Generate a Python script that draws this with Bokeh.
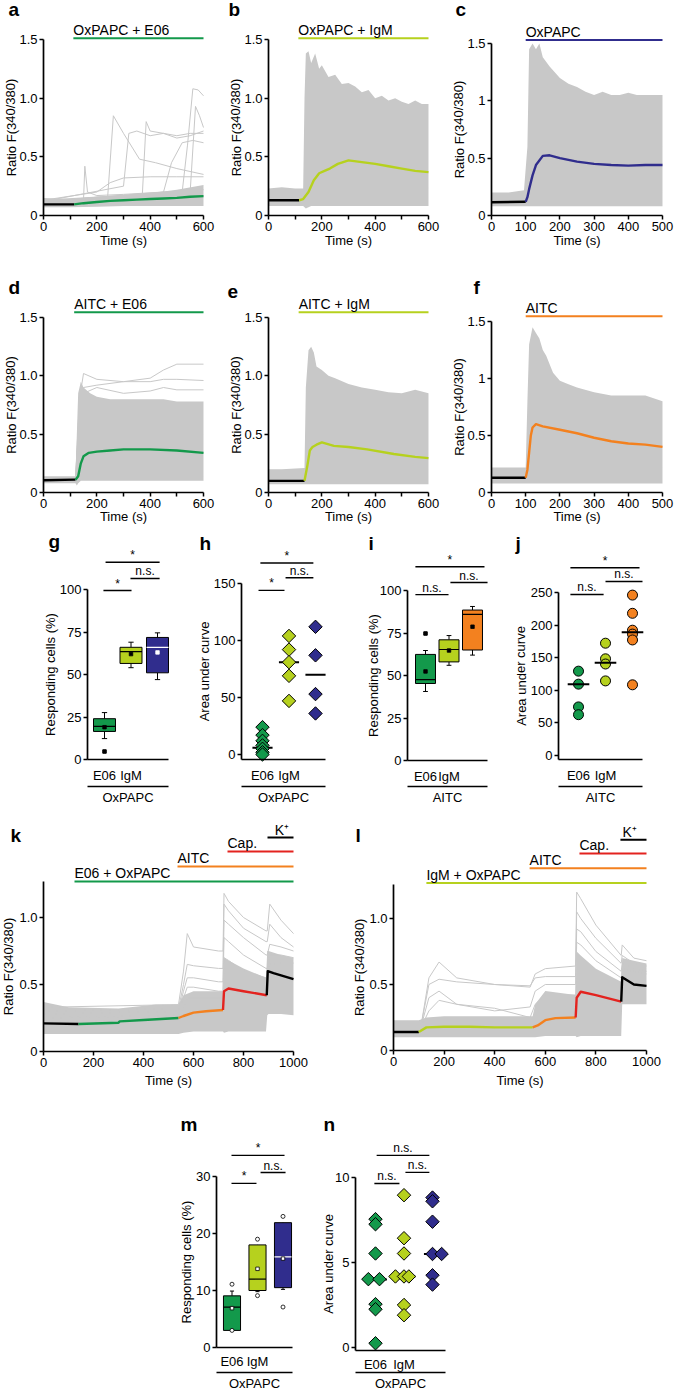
from bokeh.plotting import figure
from bokeh.models import Range1d, FixedTicker
from bokeh.layouts import column, row
from bokeh.embed import file_html
from bokeh.resources import INLINE
from bokeh.core.properties import value

FONT = "Liberation Sans"
GREEN = "#13994b"
LIME = "#b6d11e"
BLUE = "#302d8d"
ORANGE = "#f3811f"
RED = "#e3231f"
GRAY = "#c8c8c8"
BLACK = "#000000"

# ---------------- trace panels (time in s, ratio F340/380) ----------------
a_env_t = [0, 100, 200, 300, 400, 500, 600]
a_env_lo = [0.07, 0.07, 0.075, 0.08, 0.08, 0.08, 0.08]
a_env_hi = [0.15, 0.14, 0.16, 0.17, 0.19, 0.22, 0.26]
a_traces = [
    ([0, 240, 262, 300, 360, 420, 500, 600], [0.12, 0.14, 0.85, 0.70, 0.48, 0.45, 0.40, 0.35]),
    ([0, 370, 385, 400, 450, 500, 550, 600], [0.13, 0.15, 0.80, 0.72, 0.70, 0.68, 0.70, 0.70]),
    ([0, 300, 320, 350, 400, 450, 500, 550, 600], [0.12, 0.25, 0.70, 0.72, 0.68, 0.70, 0.66, 0.68, 0.72]),
    ([0, 520, 540, 560, 580, 600], [0.13, 0.20, 0.60, 1.08, 1.07, 1.02]),
    ([0, 550, 570, 585, 600], [0.12, 0.20, 0.93, 0.85, 0.75]),
    ([0, 200, 250, 300, 400, 500, 600], [0.13, 0.20, 0.28, 0.32, 0.33, 0.33, 0.33]),
    ([0, 450, 480, 520, 560, 600], [0.12, 0.20, 0.45, 0.62, 0.64, 0.62]),
    ([0, 150, 155, 165, 200, 300, 600], [0.12, 0.13, 0.42, 0.20, 0.17, 0.18, 0.22]),
]
a_mean_t = [0, 115, 150, 200, 250, 300, 350, 400, 450, 500, 550, 600]
a_mean_v = [0.095, 0.095, 0.105, 0.115, 0.125, 0.13, 0.135, 0.14, 0.145, 0.15, 0.16, 0.165]

b_env_t = [0, 50, 100, 130, 135, 140, 150, 160, 175, 190, 200, 225, 250, 275, 300, 325, 350, 375, 400, 425, 450, 475, 500, 525, 550, 575, 600]
b_env_hi = [0.23, 0.24, 0.23, 0.23, 1.0, 1.38, 1.40, 1.30, 1.38, 1.25, 1.28, 1.18, 1.20, 1.12, 1.13, 1.10, 1.05, 1.07, 1.00, 1.02, 0.98, 1.0, 0.97, 0.95, 0.98, 0.95, 0.95]
b_env_lo = [0.08, 0.08, 0.08, 0.08, 0.07, 0.06, 0.07, 0.08, 0.08, 0.08, 0.08, 0.08, 0.08, 0.08, 0.08, 0.08, 0.08, 0.08, 0.08, 0.08, 0.08, 0.08, 0.08, 0.08, 0.08, 0.08, 0.08]
b_mean_t = [0, 115, 130, 150, 170, 190, 210, 230, 260, 300, 350, 400, 450, 500, 550, 600]
b_mean_v = [0.13, 0.13, 0.14, 0.20, 0.30, 0.36, 0.38, 0.40, 0.44, 0.47, 0.455, 0.44, 0.42, 0.40, 0.38, 0.37]

c_env_t = [0, 50, 95, 105, 110, 120, 130, 140, 150, 170, 200, 225, 250, 275, 300, 325, 350, 375, 400, 425, 450, 475, 500]
c_env_hi = [0.20, 0.20, 0.22, 0.60, 1.45, 1.50, 1.45, 1.50, 1.38, 1.30, 1.20, 1.15, 1.12, 1.08, 1.05, 1.08, 1.05, 1.05, 1.07, 1.05, 1.05, 1.05, 1.05]
c_env_lo = [0.08] * 23
c_mean_t = [0, 100, 105, 110, 120, 130, 150, 170, 200, 250, 300, 350, 400, 450, 500]
c_mean_v = [0.115, 0.12, 0.16, 0.23, 0.35, 0.44, 0.52, 0.525, 0.50, 0.47, 0.45, 0.44, 0.435, 0.44, 0.44]

d_env_t = [0, 50, 120, 125, 130, 140, 150, 175, 200, 250, 300, 350, 400, 450, 500, 550, 600]
d_env_hi = [0.14, 0.14, 0.14, 0.50, 0.85, 0.95, 0.90, 0.85, 0.82, 0.80, 0.80, 0.80, 0.80, 0.80, 0.78, 0.78, 0.78]
d_env_lo = [0.08, 0.08, 0.08, 0.06, 0.08, 0.10, 0.10, 0.10, 0.10, 0.10, 0.10, 0.10, 0.10, 0.10, 0.10, 0.10, 0.10]
d_traces = [
    ([0, 120, 135, 150, 200, 300, 400, 450, 500, 600], [0.12, 0.12, 0.80, 1.02, 0.97, 0.95, 0.98, 1.05, 1.10, 1.10]),
    ([0, 120, 135, 150, 200, 300, 400, 450, 500, 600], [0.12, 0.12, 0.70, 0.90, 0.92, 0.95, 0.95, 0.97, 0.97, 0.96]),
    ([0, 120, 135, 150, 200, 300, 400, 450, 500, 600], [0.11, 0.11, 0.60, 0.85, 0.90, 0.85, 0.87, 0.90, 0.88, 0.88]),
]
d_mean_t = [0, 120, 130, 140, 150, 170, 200, 250, 300, 400, 500, 600]
d_mean_v = [0.105, 0.11, 0.14, 0.25, 0.31, 0.34, 0.35, 0.36, 0.37, 0.37, 0.36, 0.34]

e_env_t = [0, 50, 135, 140, 150, 160, 170, 180, 200, 225, 250, 300, 350, 400, 450, 500, 550, 600]
e_env_hi = [0.20, 0.20, 0.21, 0.90, 1.22, 1.25, 1.20, 1.08, 1.05, 1.00, 0.98, 0.93, 0.90, 0.88, 0.86, 0.85, 0.88, 0.85]
e_env_lo = [0.07] * 18
e_mean_t = [0, 135, 145, 155, 165, 180, 200, 245, 300, 370, 470, 550, 600]
e_mean_v = [0.10, 0.10, 0.22, 0.36, 0.39, 0.41, 0.43, 0.40, 0.39, 0.37, 0.33, 0.305, 0.295]

f_env_t = [0, 50, 100, 105, 110, 120, 130, 140, 150, 160, 180, 200, 225, 250, 300, 350, 400, 450, 500]
f_env_hi = [0.22, 0.22, 0.22, 0.80, 1.30, 1.45, 1.40, 1.35, 1.25, 1.20, 1.05, 0.98, 0.95, 0.92, 0.88, 0.85, 0.85, 0.85, 0.80]
f_env_lo = [0.08] * 19
f_mean_t = [0, 100, 105, 110, 115, 120, 130, 150, 200, 250, 300, 350, 400, 450, 500]
f_mean_v = [0.13, 0.13, 0.20, 0.35, 0.50, 0.57, 0.60, 0.58, 0.55, 0.52, 0.48, 0.45, 0.43, 0.42, 0.40]

# ---------------- k / l sequential application traces ----------------
k_env_t = [0, 100, 300, 450, 540, 560, 600, 700, 718, 722, 740, 800, 890, 895, 900, 950, 1000]
k_env_lo = [0.13, 0.13, 0.13, 0.13, 0.13, 0.14, 0.15, 0.15, 0.15, 0.14, 0.15, 0.15, 0.15, 0.27, 0.28, 0.28, 0.27]
k_env_hi = [0.37, 0.33, 0.32, 0.35, 0.35, 0.42, 0.45, 0.45, 0.45, 0.70, 0.68, 0.62, 0.55, 0.75, 0.75, 0.72, 0.70]
k_tr_t = [0, 540, 560, 575, 600, 700, 718, 722, 740, 800, 890, 895, 905, 950, 1000]
k_traces = [
    (k_tr_t, [0.33, 0.35, 0.60, 0.88, 0.78, 0.75, 0.75, 1.18, 1.12, 1.00, 0.90, 0.90, 1.10, 0.98, 0.88]),
    (k_tr_t, [0.30, 0.32, 0.50, 0.65, 0.64, 0.62, 0.62, 1.10, 1.05, 0.92, 0.82, 0.82, 0.95, 0.85, 0.78]),
    (k_tr_t, [0.28, 0.30, 0.45, 0.55, 0.55, 0.52, 0.52, 0.98, 0.95, 0.85, 0.72, 0.72, 0.80, 0.78, 0.75]),
    (k_tr_t, [0.25, 0.27, 0.40, 0.48, 0.48, 0.45, 0.45, 0.85, 0.82, 0.72, 0.62, 0.62, 0.72, 0.72, 0.70]),
    (k_tr_t, [0.22, 0.24, 0.33, 0.40, 0.40, 0.40, 0.40, 0.70, 0.68, 0.60, 0.55, 0.55, 0.65, 0.66, 0.66]),
]
k_mean_t = [0, 140, 300, 305, 400, 540, 560, 600, 650, 718, 722, 740, 800, 893, 897, 920, 1000]
k_mean_v = [0.21, 0.205, 0.215, 0.225, 0.235, 0.25, 0.265, 0.29, 0.30, 0.31, 0.45, 0.47, 0.45, 0.42, 0.60, 0.585, 0.54]

l_env_t = [0, 100, 130, 200, 400, 550, 560, 600, 720, 724, 740, 800, 900, 904, 950, 1000]
l_env_lo = [0.10, 0.10, 0.10, 0.10, 0.10, 0.10, 0.10, 0.11, 0.11, 0.10, 0.11, 0.11, 0.11, 0.35, 0.35, 0.35]
l_env_hi = [0.23, 0.23, 0.25, 0.26, 0.26, 0.26, 0.35, 0.45, 0.42, 0.75, 0.72, 0.62, 0.52, 0.70, 0.68, 0.66]
l_tr_t = [0, 110, 140, 180, 250, 400, 540, 560, 600, 720, 724, 740, 800, 900, 904, 950, 1000]
l_traces = [
    (l_tr_t, [0.20, 0.20, 0.55, 0.67, 0.55, 0.50, 0.48, 0.58, 0.62, 0.64, 1.20, 1.15, 0.95, 0.72, 0.80, 0.70, 0.68]),
    (l_tr_t, [0.20, 0.20, 0.50, 0.54, 0.52, 0.50, 0.49, 0.55, 0.56, 0.56, 1.05, 1.00, 0.85, 0.66, 0.72, 0.66, 0.64]),
    (l_tr_t, [0.19, 0.19, 0.40, 0.45, 0.35, 0.30, 0.33, 0.45, 0.50, 0.50, 0.92, 0.90, 0.75, 0.60, 0.66, 0.62, 0.60]),
    (l_tr_t, [0.18, 0.18, 0.30, 0.38, 0.35, 0.32, 0.25, 0.35, 0.42, 0.42, 0.82, 0.80, 0.68, 0.55, 0.62, 0.60, 0.58]),
]
l_mean_t = [0, 100, 130, 200, 300, 400, 550, 570, 600, 640, 720, 724, 740, 800, 900, 904, 950, 1000]
l_mean_v = [0.14, 0.14, 0.175, 0.18, 0.18, 0.175, 0.175, 0.19, 0.23, 0.245, 0.25, 0.40, 0.445, 0.42, 0.37, 0.555, 0.50, 0.49]

# ---------------- summary panels ----------------
groups = [1, 2, 3]
tick_names = {1: "E06", 2: "IgM", 3: ""}

g_q1 = [16.5, 56.5, 51.0]
g_q3 = [24.0, 66.0, 71.8]
g_med = [19.5, 63.5, 66.0]
g_lo = [12.3, 54.0, 47.0]
g_hi = [27.6, 69.0, 74.5]
g_mean = [19.0, 62.0, 63.0]
g_out_x = [1]
g_out_y = [4.7]

h_green = [24, 17, 12, 8, 5, 2, 0]
h_lime = [104, 92, 81, 69, 47]
h_blue = [112, 87, 53, 36]
h_med = [6, 81, 70]

i_q1 = [45.3, 58.0, 65.0]
i_q3 = [62.4, 71.0, 88.5]
i_med = [47.6, 65.3, 86.0]
i_lo = [40.6, 56.0, 62.0]
i_hi = [64.7, 73.5, 90.6]
i_mean = [52.4, 64.7, 78.7]
i_out_x = [1]
i_out_y = [74.7]

j_green = [129, 109, 74, 62]
j_lime = [172, 148, 140, 114]
j_orange = [246, 218, 192, 186, 177, 108]
j_med = [109, 142, 189]

m_q1 = [3.0, 10.0, 10.5]
m_q3 = [9.06, 18.0, 21.9]
m_med = [7.1, 12.0, 15.9]
m_lo = [3.0, 9.8, 10.2]
m_hi = [9.9, 17.8, 21.7]
m_mean = [6.9, 13.8, 15.6]
m_dot_x = [1, 1, 2, 2, 3, 3]
m_dot_y = [11.1, 3.0, 19.0, 9.1, 23.0, 7.1]

n_green = [7.55, 7.25, 5.53, 4.02, 4.02, 2.55, 2.25, 0.25]
n_green_jit = [0, 0, 0, -0.25, 0.14, 0, 0, 0]
n_lime = [8.96, 6.43, 5.53, 4.18, 4.18, 4.18, 2.5, 1.9]
n_lime_jit = [0, 0, 0, -0.3, 0, 0.17, 0, 0]
n_blue = [8.82, 8.6, 7.4, 5.5, 5.5, 4.25, 3.7]
n_blue_jit = [0, 0, 0, 0, 0.32, 0, 0]
n_med = [4.0, 4.18, 5.5]
n_med_shift = [0, 0.0, 0.1]

g_sig = ([1.04, 1.98, 0.96], [3.08, 3.08, 2.02], [116, 106.5, 99.4], ["*", "n.s.", "*"])
h_sig = ([0.92, 1.87, 0.85], [2.92, 2.92, 1.83], [168, 155, 144], ["*", "n.s.", "*"])
i_sig = ([0.57, 2.06, 0.57], [3.51, 3.64, 1.98], [114, 104.7, 97.6], ["*", "n.s.", "n.s."])
j_sig = ([0.70, 2.0, 0.70], [3.26, 3.37, 1.93], [288, 267, 247], ["*", "n.s.", "n.s."])
m_sig = ([0.98, 2.12, 0.98], [3.06, 3.10, 1.96], [33.7, 30.7, 28.8], ["*", "n.s.", "*"])
n_sig = ([1.04, 2.05, 0.96], [2.89, 2.89, 1.84], [11.3, 10.3, 9.65], ["n.s.", "n.s.", "n.s."])

Y15 = {0: "0", 0.5: "0.5", 1: "1.0", 1.5: "1.5"}
Y15c = {0: "0", 0.5: "0.5", 1: "1", 1.5: "1.5"}


def style_axis(ax):
    ax.axis_line_color = BLACK
    ax.axis_line_width = 1.7
    ax.major_tick_line_color = BLACK
    ax.major_tick_line_width = 1.5
    ax.major_tick_in = 0
    ax.major_tick_out = 4
    ax.minor_tick_line_color = BLACK
    ax.minor_tick_line_width = 1.5
    ax.minor_tick_in = 0
    ax.minor_tick_out = 4
    ax.major_label_text_font = FONT
    ax.major_label_text_font_size = "13px"
    ax.major_label_text_color = BLACK
    ax.major_label_standoff = 2


def txt(p, x, y, s, size="13px", align="center", baseline="middle", angle=0.0, bold=False):
    p.text(x=[x], y=[y], text=[s], text_font=value(FONT), text_font_size=value(size),
           text_font_style="bold" if bold else "normal", text_color=BLACK,
           text_align=align, text_baseline=baseline, angle=angle)


class Panel:
    """A figure whose plotting frame fills its whole cell.
    Positions of texts are given in page pixels and mapped to data coordinates."""

    def __init__(self, fl, ft, W, H, xref, yref, yaxis_at, xaxis_at, ybounds, xbounds):
        self.d0, self.s0, self.kx = xref
        self.y0, self.sy0, self.ky = yref
        p = figure(width=W, height=H,
                   x_range=Range1d(self.X(fl), self.X(fl + W)),
                   y_range=Range1d(self.Y(ft + H), self.Y(ft)),
                   output_backend="svg", toolbar_location=None,
                   min_border_left=0, min_border_top=0, min_border_right=0, min_border_bottom=0)
        p.outline_line_color = None
        p.xgrid.visible = False
        p.ygrid.visible = False
        p.background_fill_color = "white"
        p.border_fill_color = "white"
        for ax in p.axis:
            style_axis(ax)
        p.yaxis.fixed_location = yaxis_at
        p.xaxis.fixed_location = xaxis_at
        p.yaxis.bounds = ybounds
        p.xaxis.bounds = xbounds
        self.p = p

    def X(self, sx):
        return self.d0 + (sx - self.s0) / self.kx

    def Y(self, sy):
        return self.y0 + (self.sy0 - sy) / self.ky

    def letter(self, s, sx, sy_base):
        txt(self.p, self.X(sx), self.Y(sy_base + 4), s, size="19px", align="left",
            baseline="bottom", bold=True)

    def ylabel(self, s, cx, cy):
        txt(self.p, self.X(cx), self.Y(cy), s, angle=1.5708)


def trace_panel(fl, ft, W, H, xmax, ax_sx, end_sx, zero_sy, top_sy, ybound, yticks, ylabels,
                xticks, xminor, env, extras, mean_t, mean_v, segs, drugs, letter, lsx, lsy,
                ylab_sx, time_sy):
    ky = (zero_sy - top_sy) / 1.5
    P = Panel(fl, ft, W, H, (0, ax_sx, (end_sx - ax_sx) / xmax), (0, zero_sy, ky), 0, 0,
              (0, ybound), (0, xmax))
    p = P.p
    p.xaxis.ticker = FixedTicker(ticks=xticks, minor_ticks=xminor)
    p.yaxis.ticker = FixedTicker(ticks=yticks)
    p.yaxis.major_label_overrides = ylabels
    et, elo, ehi = env
    p.varea(x=et, y1=elo, y2=ehi, fill_color=GRAY)
    for tt, vv in extras:
        p.line(tt, vv, line_color=GRAY, line_width=1)
    for t0, t1, col in segs:
        idx = [i for i, t in enumerate(mean_t) if t0 <= t <= t1]
        p.line([mean_t[i] for i in idx], [mean_v[i] for i in idx], line_color=col,
               line_width=2.4, line_join="round")
    for start, lab, col, by, tx in drugs:
        p.segment(x0=[start], x1=[xmax], y0=[by], y1=[by], line_color=col, line_width=2)
        txt(p, tx, by, lab, size="14px", align="left", baseline="bottom")
    P.letter(letter, lsx, lsy)
    P.ylabel("Ratio F(340/380)", ylab_sx, (zero_sy + P.sy0 - ybound * ky) / 2)
    txt(p, xmax / 2, P.Y(time_sy), "Time (s)")
    return p


def cat_panel(fl, ft, W, H, pos1_sx, step, ax_sx, end_sx, zero_sy, ky, xaxis_sy, ytop, yticks,
              ylabel, group, letter, lsx, lsy, ylab_sx, line_sy, group_sy, label_standoff):
    P = Panel(fl, ft, W, H, (1, pos1_sx, step), (0, zero_sy, ky), 0, 0, (0, 1), (0, 1))
    ax0 = P.X(ax_sx)
    ax1 = P.X(end_sx)
    y_axis = P.Y(xaxis_sy)
    p = P.p
    p.yaxis.fixed_location = ax0
    p.xaxis.fixed_location = y_axis
    p.yaxis.bounds = (y_axis, ytop)
    p.xaxis.bounds = (ax0, ax1)
    p.yaxis.ticker = FixedTicker(ticks=yticks)
    p.xaxis.ticker = FixedTicker(ticks=groups)
    p.xaxis.major_label_overrides = tick_names
    p.xaxis.major_tick_out = 0
    p.xaxis.major_label_standoff = label_standoff
    gl = P.Y(line_sy)
    p.segment(x0=[ax0], x1=[ax1], y0=[gl], y1=[gl], line_color=BLACK, line_width=1.3)
    txt(p, (ax0 + ax1) / 2, P.Y(group_sy), group)
    P.letter(letter, lsx, lsy)
    P.ylabel(ylabel, ylab_sx, (xaxis_sy + zero_sy - ytop * ky) / 2)
    return p


def add_sig(p, sig):
    x0, x1, ys, t = sig
    p.segment(x0=x0, x1=x1, y0=ys, y1=ys, line_color=BLACK, line_width=1.4)
    mids = [(a + b) / 2 for a, b in zip(x0, x1)]
    p.text(x=mids, y=ys, text=t, text_font=value(FONT), text_font_size=value("12px"),
           text_color=BLACK, text_align="center", text_baseline="bottom")


def add_boxes(p, q1, q3, med, lo, hi, mean, colors, bw, med_colors, mean_colors, mean_line):
    cw = bw * 0.12
    p.segment(x0=groups, x1=groups, y0=q3, y1=hi, line_color=BLACK, line_width=1)
    p.segment(x0=groups, x1=groups, y0=lo, y1=q1, line_color=BLACK, line_width=1)
    p.segment(x0=[g - cw for g in groups], x1=[g + cw for g in groups], y0=hi, y1=hi,
              line_color=BLACK, line_width=1)
    p.segment(x0=[g - cw for g in groups], x1=[g + cw for g in groups], y0=lo, y1=lo,
              line_color=BLACK, line_width=1)
    p.vbar(x=groups, width=bw, bottom=q1, top=q3, fill_color=colors, line_color=BLACK, line_width=1)
    p.segment(x0=[g - bw / 2 for g in groups], x1=[g + bw / 2 for g in groups], y0=med, y1=med,
              line_color=med_colors, line_width=1.2)
    p.scatter(x=groups, y=mean, marker="square", size=3.5, fill_color=mean_colors,
              line_color=mean_line, line_width=0.8)


# ---------------- rows 1-2 ----------------
pa = trace_panel(0, 0, 226, 278, 600, 43, 203, 215, 39, 1.5, [0, 0.5, 1, 1.5], Y15,
                 [0, 200, 400, 600], [100, 300, 500], (a_env_t, a_env_lo, a_env_hi), a_traces,
                 a_mean_t, a_mean_v, [(0, 115, BLACK), (115, 600, GREEN)],
                 [(112, "OxPAPC + E06", GREEN, 1.51, 112)], "a", 8, 15, 10.5, 240)
pb = trace_panel(226, 0, 225, 278, 600, 268, 428, 215, 39, 1.5, [0, 0.5, 1, 1.5], Y15,
                 [0, 200, 400, 600], [100, 300, 500], (b_env_t, b_env_lo, b_env_hi), [],
                 b_mean_t, b_mean_v, [(0, 115, BLACK), (115, 600, LIME)],
                 [(112, "OxPAPC + IgM", LIME, 1.51, 112)], "b", 228, 15, 235.5, 240)
pc = trace_panel(451, 0, 224, 278, 500, 491, 662, 215, 43, 1.5, [0, 0.5, 1, 1.5], Y15c,
                 [0, 100, 200, 300, 400, 500], [], (c_env_t, c_env_lo, c_env_hi), [],
                 c_mean_t, c_mean_v, [(0, 100, BLACK), (100, 500, BLUE)],
                 [(100, "OxPAPC", BLUE, 1.53, 100)], "c", 455, 15, 458.5, 240)

pd_ = trace_panel(0, 278, 226, 250, 600, 43, 203, 492, 317, 1.5, [0, 0.5, 1, 1.5], Y15,
                  [0, 200, 400, 600], [100, 300, 500], (d_env_t, d_env_lo, d_env_hi), d_traces,
                  d_mean_t, d_mean_v, [(0, 120, BLACK), (120, 600, GREEN)],
                  [(115, "AITC + E06", GREEN, 1.545, 115)], "d", 8, 293, 10.5, 516)
pe = trace_panel(226, 278, 225, 250, 600, 268, 428, 492, 317, 1.5, [0, 0.5, 1, 1.5], Y15,
                 [0, 200, 400, 600], [100, 300, 500], (e_env_t, e_env_lo, e_env_hi), [],
                 e_mean_t, e_mean_v, [(0, 135, BLACK), (135, 600, LIME)],
                 [(113, "AITC + IgM", LIME, 1.545, 113)], "e", 227, 293, 235.5, 516)
pf = trace_panel(451, 278, 224, 250, 500, 491, 662, 492, 321, 1.5, [0, 0.5, 1, 1.5], Y15c,
                 [0, 100, 200, 300, 400, 500], [], (f_env_t, f_env_lo, f_env_hi), [],
                 f_mean_t, f_mean_v, [(0, 100, BLACK), (100, 500, ORANGE)],
                 [(100, "AITC", ORANGE, 1.545, 100)], "f", 473, 293, 458.5, 516)

# ---------------- row 3 ----------------
R3T, R3H = 528, 292
pg = cat_panel(0, R3T, 183, R3H, 104, 26.5, 87, 168, 759, 1.7, 759, 100, [0, 25, 50, 75, 100],
               "Responding cells (%)", "OxPAPC", "g", 48, 547, 50, 786, 797, 8)
add_boxes(pg, g_q1, g_q3, g_med, g_lo, g_hi, g_mean, [GREEN, LIME, BLUE], 0.83,
          [BLACK, BLACK, "white"], [BLACK, BLACK, "white"], [BLACK, BLACK, "white"])
pg.scatter(x=g_out_x, y=g_out_y, marker="square", size=3.5, color=BLACK)
add_sig(pg, g_sig)

ph = cat_panel(183, R3T, 165, R3H, 262, 26.5, 241, 325, 754, 1.14, 759, 150, [0, 50, 100, 150],
               "Area under curve", "OxPAPC", "h", 199, 549, 204, 786, 797, 8)
ph.segment(x0=[g - 0.38 for g in groups], x1=[g + 0.38 for g in groups], y0=h_med, y1=h_med,
           line_color=BLACK, line_width=2)
for gx, vals, col in [(1, h_green, GREEN), (2, h_lime, LIME), (3, h_blue, BLUE)]:
    ph.scatter(x=[gx] * len(vals), y=vals, marker="square", angle=0.7854, size=9.5,
               fill_color=col, line_color=BLACK, line_width=1)
add_sig(ph, h_sig)

pi = cat_panel(348, R3T, 160, R3H, 425, 23.5, 407, 487, 760, 1.7, 760, 100, [0, 25, 50, 75, 100],
               "Responding cells (%)", "AITC", "i", 368, 549, 373, 786, 797, 8)
add_boxes(pi, i_q1, i_q3, i_med, i_lo, i_hi, i_mean, [GREEN, LIME, ORANGE], 0.85,
          [BLACK, BLACK, BLACK], [BLACK, BLACK, BLACK], [BLACK, BLACK, BLACK])
pi.scatter(x=i_out_x, y=i_out_y, marker="square", size=3.5, color=BLACK)
add_sig(pi, i_sig)

pj = cat_panel(508, R3T, 167, R3H, 578, 27, 558, 642, 754.5, 0.65, 759, 250,
               [0, 50, 100, 150, 200, 250], "Area under curve", "AITC", "j", 515, 549, 520.5,
               786, 797, 8)
for gx, vals, col in [(1, j_green, GREEN), (2, j_lime, LIME), (3, j_orange, ORANGE)]:
    pj.scatter(x=[gx] * len(vals), y=vals, marker="circle", size=10,
               fill_color=col, line_color=BLACK, line_width=1)
pj.segment(x0=[g - 0.4 for g in groups], x1=[g + 0.4 for g in groups], y0=j_med, y1=j_med,
           line_color=BLACK, line_width=2)
add_sig(pj, j_sig)

# ---------------- row 4 ----------------
pk = trace_panel(0, 820, 348, 288, 1000, 43, 293, 1051, 1051 - 1.5 * 134, 1.27, [0, 0.5, 1], Y15,
                 [0, 200, 400, 600, 800, 1000], [], (k_env_t, k_env_lo, k_env_hi), k_traces,
                 k_mean_t, k_mean_v,
                 [(0, 140, BLACK), (140, 540, GREEN), (540, 718, ORANGE), (718, 893, RED), (893, 1000, BLACK)],
                 [(124, "E06 + OxPAPC", GREEN, 1.269, 124), (536, "AITC", ORANGE, 1.381, 536),
                  (736, "Cap.", RED, 1.493, 736), (896, "K\u207a", BLACK, 1.597, 925)],
                 "k", 10, 841, 8, 1080)
pl = trace_panel(348, 820, 327, 288, 1000, 393, 646, 1050, 1050 - 1.5 * 132, 1.26, [0, 0.5, 1], Y15,
                 [0, 200, 400, 600, 800, 1000], [], (l_env_t, l_env_lo, l_env_hi), l_traces,
                 l_mean_t, l_mean_v,
                 [(0, 100, BLACK), (100, 550, LIME), (550, 720, ORANGE), (720, 900, RED), (900, 1000, BLACK)],
                 [(130, "IgM + OxPAPC", LIME, 1.269, 130), (538, "AITC", ORANGE, 1.381, 538),
                  (735, "Cap.", RED, 1.493, 735), (897, "K\u207a", BLACK, 1.597, 905)],
                 "l", 355, 841, 359, 1080)

# ---------------- row 5 ----------------
pm = cat_panel(0, 1108, 305, 283, 231.5, 25.5, 216, 292, 1347, 5.7, 1347, 30, [0, 10, 20, 30],
               "Responding cells (%)", "OxPAPC", "m", 180, 1130, 186, 1372, 1383, 6)
add_boxes(pm, m_q1, m_q3, m_med, m_lo, m_hi, m_mean, [GREEN, LIME, BLUE], 0.67,
          [BLACK, BLACK, "white"], ["white", "white", "white"], [BLACK, BLACK, BLACK])
pm.scatter(x=m_dot_x, y=m_dot_y, marker="circle", size=4, fill_color="white",
           line_color=BLACK, line_width=0.8)
add_sig(pm, m_sig)

pn = cat_panel(305, 1108, 370, 283, 375, 28.5, 355, 445, 1347, 17.0, 1350, 10, [0, 5, 10],
               "Area under curve", "OxPAPC", "n", 323, 1130, 328, 1372, 1383, 6)
pn.segment(x0=[g + s - 0.4 for g, s in zip(groups, n_med_shift)],
           x1=[g + s + 0.4 for g, s in zip(groups, n_med_shift)], y0=n_med, y1=n_med,
           line_color=BLACK, line_width=2)
for gx, vals, jit, col in [(1, n_green, n_green_jit, GREEN), (2, n_lime, n_lime_jit, LIME),
                           (3, n_blue, n_blue_jit, BLUE)]:
    pn.scatter(x=[gx + j for j in jit], y=vals, marker="square", angle=0.7854, size=9.5,
               fill_color=col, line_color=BLACK, line_width=1)
add_sig(pn, n_sig)

layout = column(row(pa, pb, pc, spacing=0), row(pd_, pe, pf, spacing=0),
                row(pg, ph, pi, pj, spacing=0), row(pk, pl, spacing=0),
                row(pm, pn, spacing=0), spacing=0)

open("out.html", "w").write(file_html(layout, INLINE))
